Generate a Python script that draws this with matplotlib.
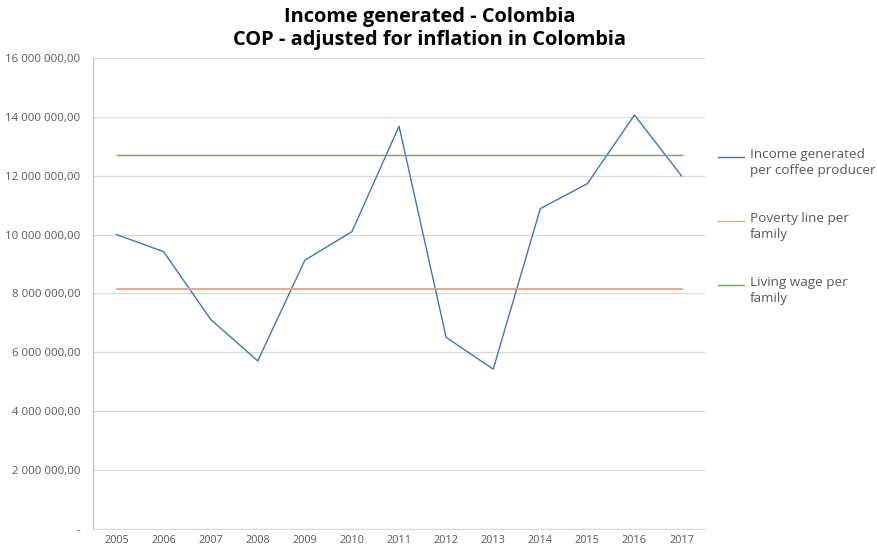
import matplotlib.pyplot as plt
from matplotlib.lines import Line2D
from matplotlib.ticker import FuncFormatter

years = ['2005', '2006', '2007', '2008', '2009', '2010', '2011',
         '2012', '2013', '2014', '2015', '2016', '2017']
income = [10.00e6, 9.42e6, 7.12e6, 5.71e6, 9.13e6, 10.10e6, 13.68e6,
          6.51e6, 5.43e6, 10.88e6, 11.73e6, 14.06e6, 11.99e6]
poverty = [8.16e6] * 13
living = [12.70e6] * 13

labels = ['Income generated\nper coffee producer', 'Poverty line per\nfamily', 'Living wage per\nfamily']
colors = ['#4472C4', '#F4A072', '#70AD47']

plt.rcParams['font.family'] = ['Open Sans', 'DejaVu Sans']

fig = plt.figure(figsize=(8.77, 5.46), dpi=100)
ax = fig.add_axes([0.106, 0.031, 0.698, 0.863])

x = list(range(len(years)))
ax.plot(x, income, color=colors[0], lw=1.0)
ax.plot(x, poverty, color=colors[1], lw=1.3)
ax.plot(x, living, color=colors[2], lw=1.0)

ax.set_xlim(-0.5, len(years) - 0.5)
ax.set_ylim(0, 16e6)
ax.set_yticks(range(0, 16000001, 2000000))
ax.set_xticks(x)
ax.set_xticklabels(years)


def fmt(v, pos):
    if v == 0:
        return '-'
    return '{:,.0f}'.format(v).replace(',', ' ') + ',00'


ax.yaxis.set_major_formatter(FuncFormatter(fmt))
ax.grid(axis='y', color='#D9D9D9', lw=0.9)
ax.set_axisbelow(True)
for s in ['top', 'right']:
    ax.spines[s].set_visible(False)
ax.spines['left'].set_color('#BFBFBF')
ax.spines['bottom'].set_color('#D9D9D9')
ax.tick_params(axis='both', length=0, colors='#595959')
ax.tick_params(axis='y', pad=9, labelsize=8.2)
ax.tick_params(axis='x', pad=4, labelsize=7.8)

fig.text(0.49, 0.988, 'Income generated - Colombia\nCOP - adjusted for inflation in Colombia',
         ha='center', va='top', fontsize=14.4, fontweight='bold', linespacing=1.2)

# legend
for i in range(3):
    yl = 1 - (157 + 64 * i) / 546
    fig.add_artist(Line2D([718 / 877, 744 / 877], [yl, yl], transform=fig.transFigure,
                          color=colors[i], lw=1.0))
    fig.text(750 / 877, yl + 9 / 546, labels[i], ha='left', va='top', fontsize=9.7,
             color='#595959', linespacing=1.3)

fig.savefig('out.png', dpi=100)
